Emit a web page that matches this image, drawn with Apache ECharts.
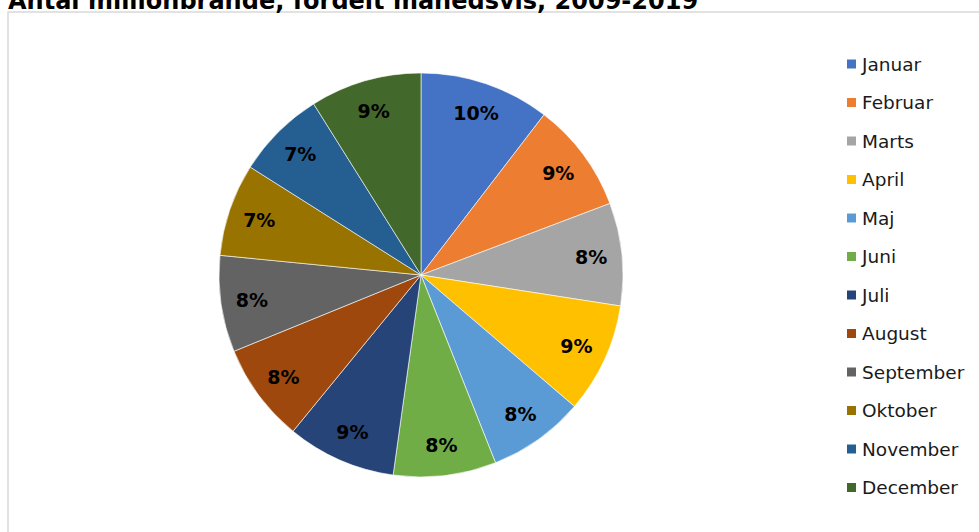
<!DOCTYPE html>
<html>
<head>
<meta charset="utf-8">
<style>
  html, body { margin: 0; padding: 0; background: #fff; }
  #chart { width: 979px; height: 532px; }
</style>
<script src="https://cdn.jsdelivr.net/npm/echarts@6/dist/echarts.min.js"></script>
</head>
<body>
<div id="chart"></div>
<script>
const titleText = "Antal millionbrande, fordelt månedsvis, 2009-2019";
const months = ["Januar", "Februar", "Marts", "April", "Maj", "Juni",
  "Juli", "August", "September", "Oktober", "November", "December"];
// antal brande pr. måned
const fires = [104, 88, 82, 88, 77, 82, 87, 79, 77, 74, 71, 89];
const colors = ["#4472C4", "#ED7D31", "#A5A5A5", "#FFC000", "#5B9BD5", "#70AD47",
  "#264478", "#9E480E", "#636363", "#997300", "#255E91", "#43682B"];

const total = fires.reduce((a, b) => a + b, 0);
const pieData = months.map((m, i) => ({ name: m, value: fires[i] }));

const chart = echarts.init(document.getElementById("chart"), null, { renderer: "svg" });

chart.setOption({
  animation: false,
  color: colors,
  title: {
    text: titleText,
    left: 3,
    top: -16,
    textStyle: {
      fontFamily: "DejaVu Sans",
      fontWeight: "bold",
      fontSize: 24,
      color: "#000"
    }
  },
  graphic: [{
    type: "rect",
    shape: { x: 8, y: 12, width: 1000, height: 600 },
    style: { fill: "none", stroke: "#d9d9d9", lineWidth: 1.5 },
    z: -1
  }],
  legend: {
    orient: "vertical",
    left: 840,
    top: 49,
    itemWidth: 11,
    itemHeight: 11,
    itemGap: 18.5,
    icon: "rect",
    data: months,
    textStyle: {
      fontFamily: "DejaVu Sans",
      fontSize: 18.5,
      lineHeight: 20,
      color: "#1a1a1a",
      padding: [0, 0, 0, 0]
    }
  },
  series: [
    {
      type: "pie",
      center: [421, 275],
      radius: [0, 202],
      startAngle: 90,
      clockwise: true,
      avoidLabelOverlap: false,
      label: { show: false },
      labelLine: { show: false },
      itemStyle: { borderColor: "#fff", borderWidth: 0.6 },
      emphasis: { disabled: true },
      data: pieData
    },
    {
      // usynlig ring, kun til placering af procent-etiketter
      type: "pie",
      center: [421, 275],
      radius: [134, 202],
      startAngle: 90,
      clockwise: true,
      silent: true,
      avoidLabelOverlap: false,
      itemStyle: { color: "rgba(0,0,0,0)", borderWidth: 0 },
      labelLine: { show: false },
      emphasis: { disabled: true },
      label: {
        show: true,
        position: "inside",
        fontFamily: "DejaVu Sans",
        fontWeight: "bold",
        fontSize: 19,
        color: "#000",
        formatter: p => Math.round(p.value / total * 100) + "%"
      },
      data: pieData
    }
  ]
});
</script>
</body>
</html>
